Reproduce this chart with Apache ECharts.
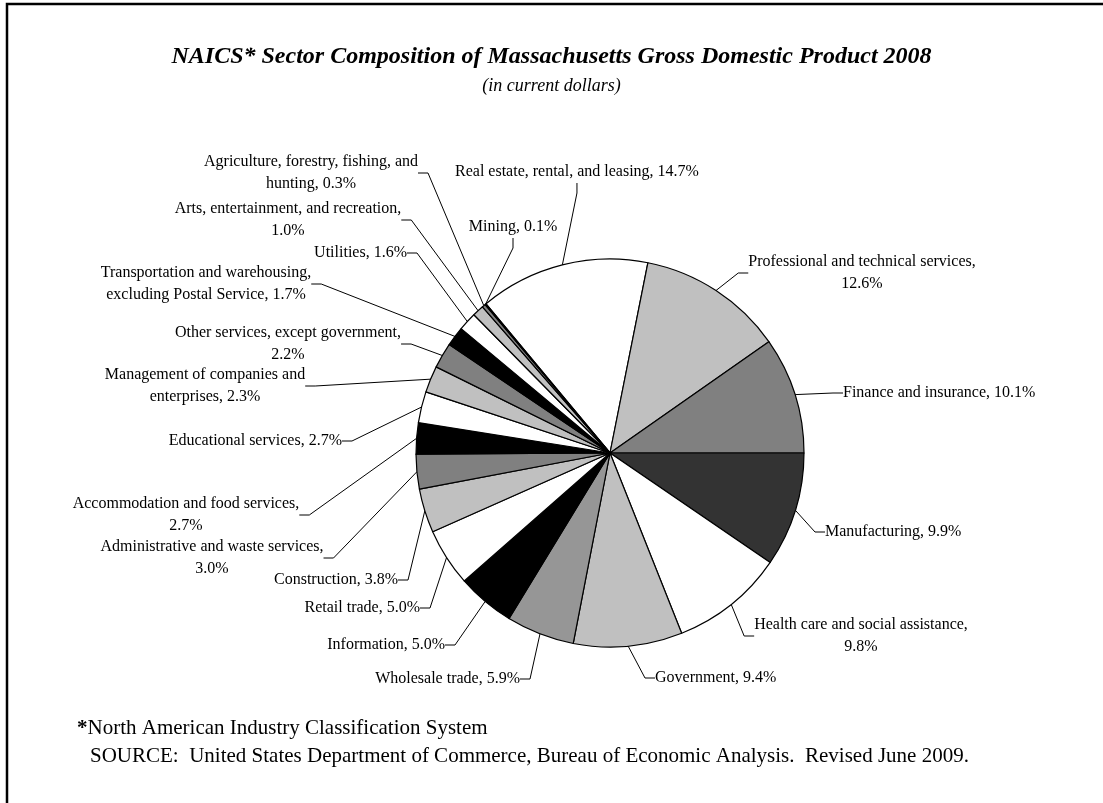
<!DOCTYPE html>
<html>
<head>
<meta charset="utf-8">
<script src="https://cdn.jsdelivr.net/npm/echarts@6/dist/echarts.min.js"></script>
<style>
  html, body { margin: 0; padding: 0; background: #fff; }
  #main { width: 1103px; height: 803px; }
</style>
</head>
<body>
<div id="main"></div>
<script>
// sectors in clockwise order, starting with real estate
const sectors = [
  'Real estate, rental, and leasing',
  'Professional and technical services',
  'Finance and insurance',
  'Manufacturing',
  'Health care and social assistance',
  'Government',
  'Wholesale trade',
  'Information',
  'Retail trade',
  'Construction',
  'Administrative and waste services',
  'Accommodation and food services',
  'Educational services',
  'Management of companies and\nenterprises',
  'Other services, except government',
  'Transportation and warehousing,\nexcluding Postal Service',
  'Utilities',
  'Arts, entertainment, and recreation',
  'Agriculture, forestry, fishing, and\nhunting',
  'Mining'
];
// percent of gross domestic product
const shares = [14.7, 12.6, 10.1, 9.9, 9.8, 9.4, 5.9, 5.0, 5.0, 3.8,
                3.0, 2.7, 2.7, 2.3, 2.2, 1.7, 1.6, 1.0, 0.3, 0.1];
// percentage printed on its own line
const valueOnOwnLine = [false, true, false, false, true, false, false, false, false, false,
                        true, true, false, false, true, false, false, true, false, false];

// slice fills
const fills = ['#ffffff', '#c0c0c0', '#808080', '#333333', '#ffffff', '#c0c0c0', '#969696', '#000000',
               '#ffffff', '#c0c0c0', '#808080', '#000000', '#ffffff', '#c0c0c0', '#808080', '#000000',
               '#ffffff', '#c0c0c0', '#808080', '#000000'];

// where each label sits: x, y (middle), alignment
const labelSpots = [
  [455, 172, 'left'], [862, 273, 'center'], [843, 393, 'left'], [825, 532, 'left'],
  [861, 636, 'center'], [655, 678, 'left'], [520, 679, 'right'], [445, 645, 'right'],
  [420, 608, 'right'], [398, 580, 'right'], [212, 558, 'center'], [186, 515, 'center'],
  [342, 441, 'right'], [205, 386, 'center'], [288, 344, 'center'], [206, 284, 'center'],
  [407, 253, 'right'], [288, 220, 'center'], [311, 173, 'center'], [513, 227, 'center']
];

const serif = 'Liberation Serif, Times New Roman, serif';
const total = shares.reduce((a, b) => a + b, 0);
// real estate .. finance end exactly at 3 o'clock
const firstThree = shares[0] + shares[1] + shares[2];
const startAngle = (firstThree / total) * 360;

const chart = echarts.init(document.getElementById('main'));

const option = {
  backgroundColor: '#fff',
  animation: false,
  title: {
    text: 'NAICS* Sector Composition of Massachusetts Gross Domestic Product 2008',
    subtext: '(in current dollars)',
    left: 'center',
    top: 40,
    itemGap: 8,
    textStyle: {
      fontFamily: serif, fontSize: 24, fontWeight: 'bold', fontStyle: 'italic', color: '#000'
    },
    subtextStyle: {
      fontFamily: serif, fontSize: 18, fontStyle: 'italic', color: '#000'
    }
  },
  graphic: [
    {
      type: 'rect',
      shape: { x: 7, y: 4, width: 1200, height: 900 },
      style: { fill: 'none', stroke: '#000', lineWidth: 2.5 },
      silent: true
    },
    {
      type: 'text',
      left: 77, top: 718,
      style: {
        text: '{b|*}North American Industry Classification System',
        font: '21px ' + serif,
        fill: '#000',
        rich: { b: { fontWeight: 'bold', fontSize: 21, fontFamily: serif } }
      }
    },
    {
      type: 'text',
      left: 90, top: 746,
      style: {
        text: 'SOURCE:  United States Department of Commerce, Bureau of Economic Analysis.  Revised June 2009.',
        font: '21px ' + serif,
        fill: '#000'
      }
    }
  ],
  series: [{
    type: 'pie',
    center: [610, 453],
    radius: 194,
    startAngle: startAngle,
    clockwise: true,
    avoidLabelOverlap: false,
    itemStyle: { borderColor: '#000', borderWidth: 1.2 },
    label: {
      show: true,
      position: 'outside',
      fontFamily: serif,
      fontSize: 16,
      lineHeight: 22,
      color: '#000',
      formatter: function (p) {
        const sep = valueOnOwnLine[p.dataIndex] ? ',\n' : ', ';
        return p.name + sep + p.value.toFixed(1) + '%';
      }
    },
    labelLine: {
      show: true,
      length: 10,
      length2: 10,
      smooth: false,
      lineStyle: { color: '#000', width: 1 }
    },
    labelLayout: function (params) {
      const s = labelSpots[params.dataIndex];
      return { x: s[0], y: s[1], align: s[2], verticalAlign: 'middle' };
    },
    emphasis: { disabled: true },
    data: sectors.map((name, i) => ({
      name: name,
      value: shares[i],
      itemStyle: { color: fills[i] }
    }))
  }]
};

chart.setOption(option);
</script>
</body>
</html>
